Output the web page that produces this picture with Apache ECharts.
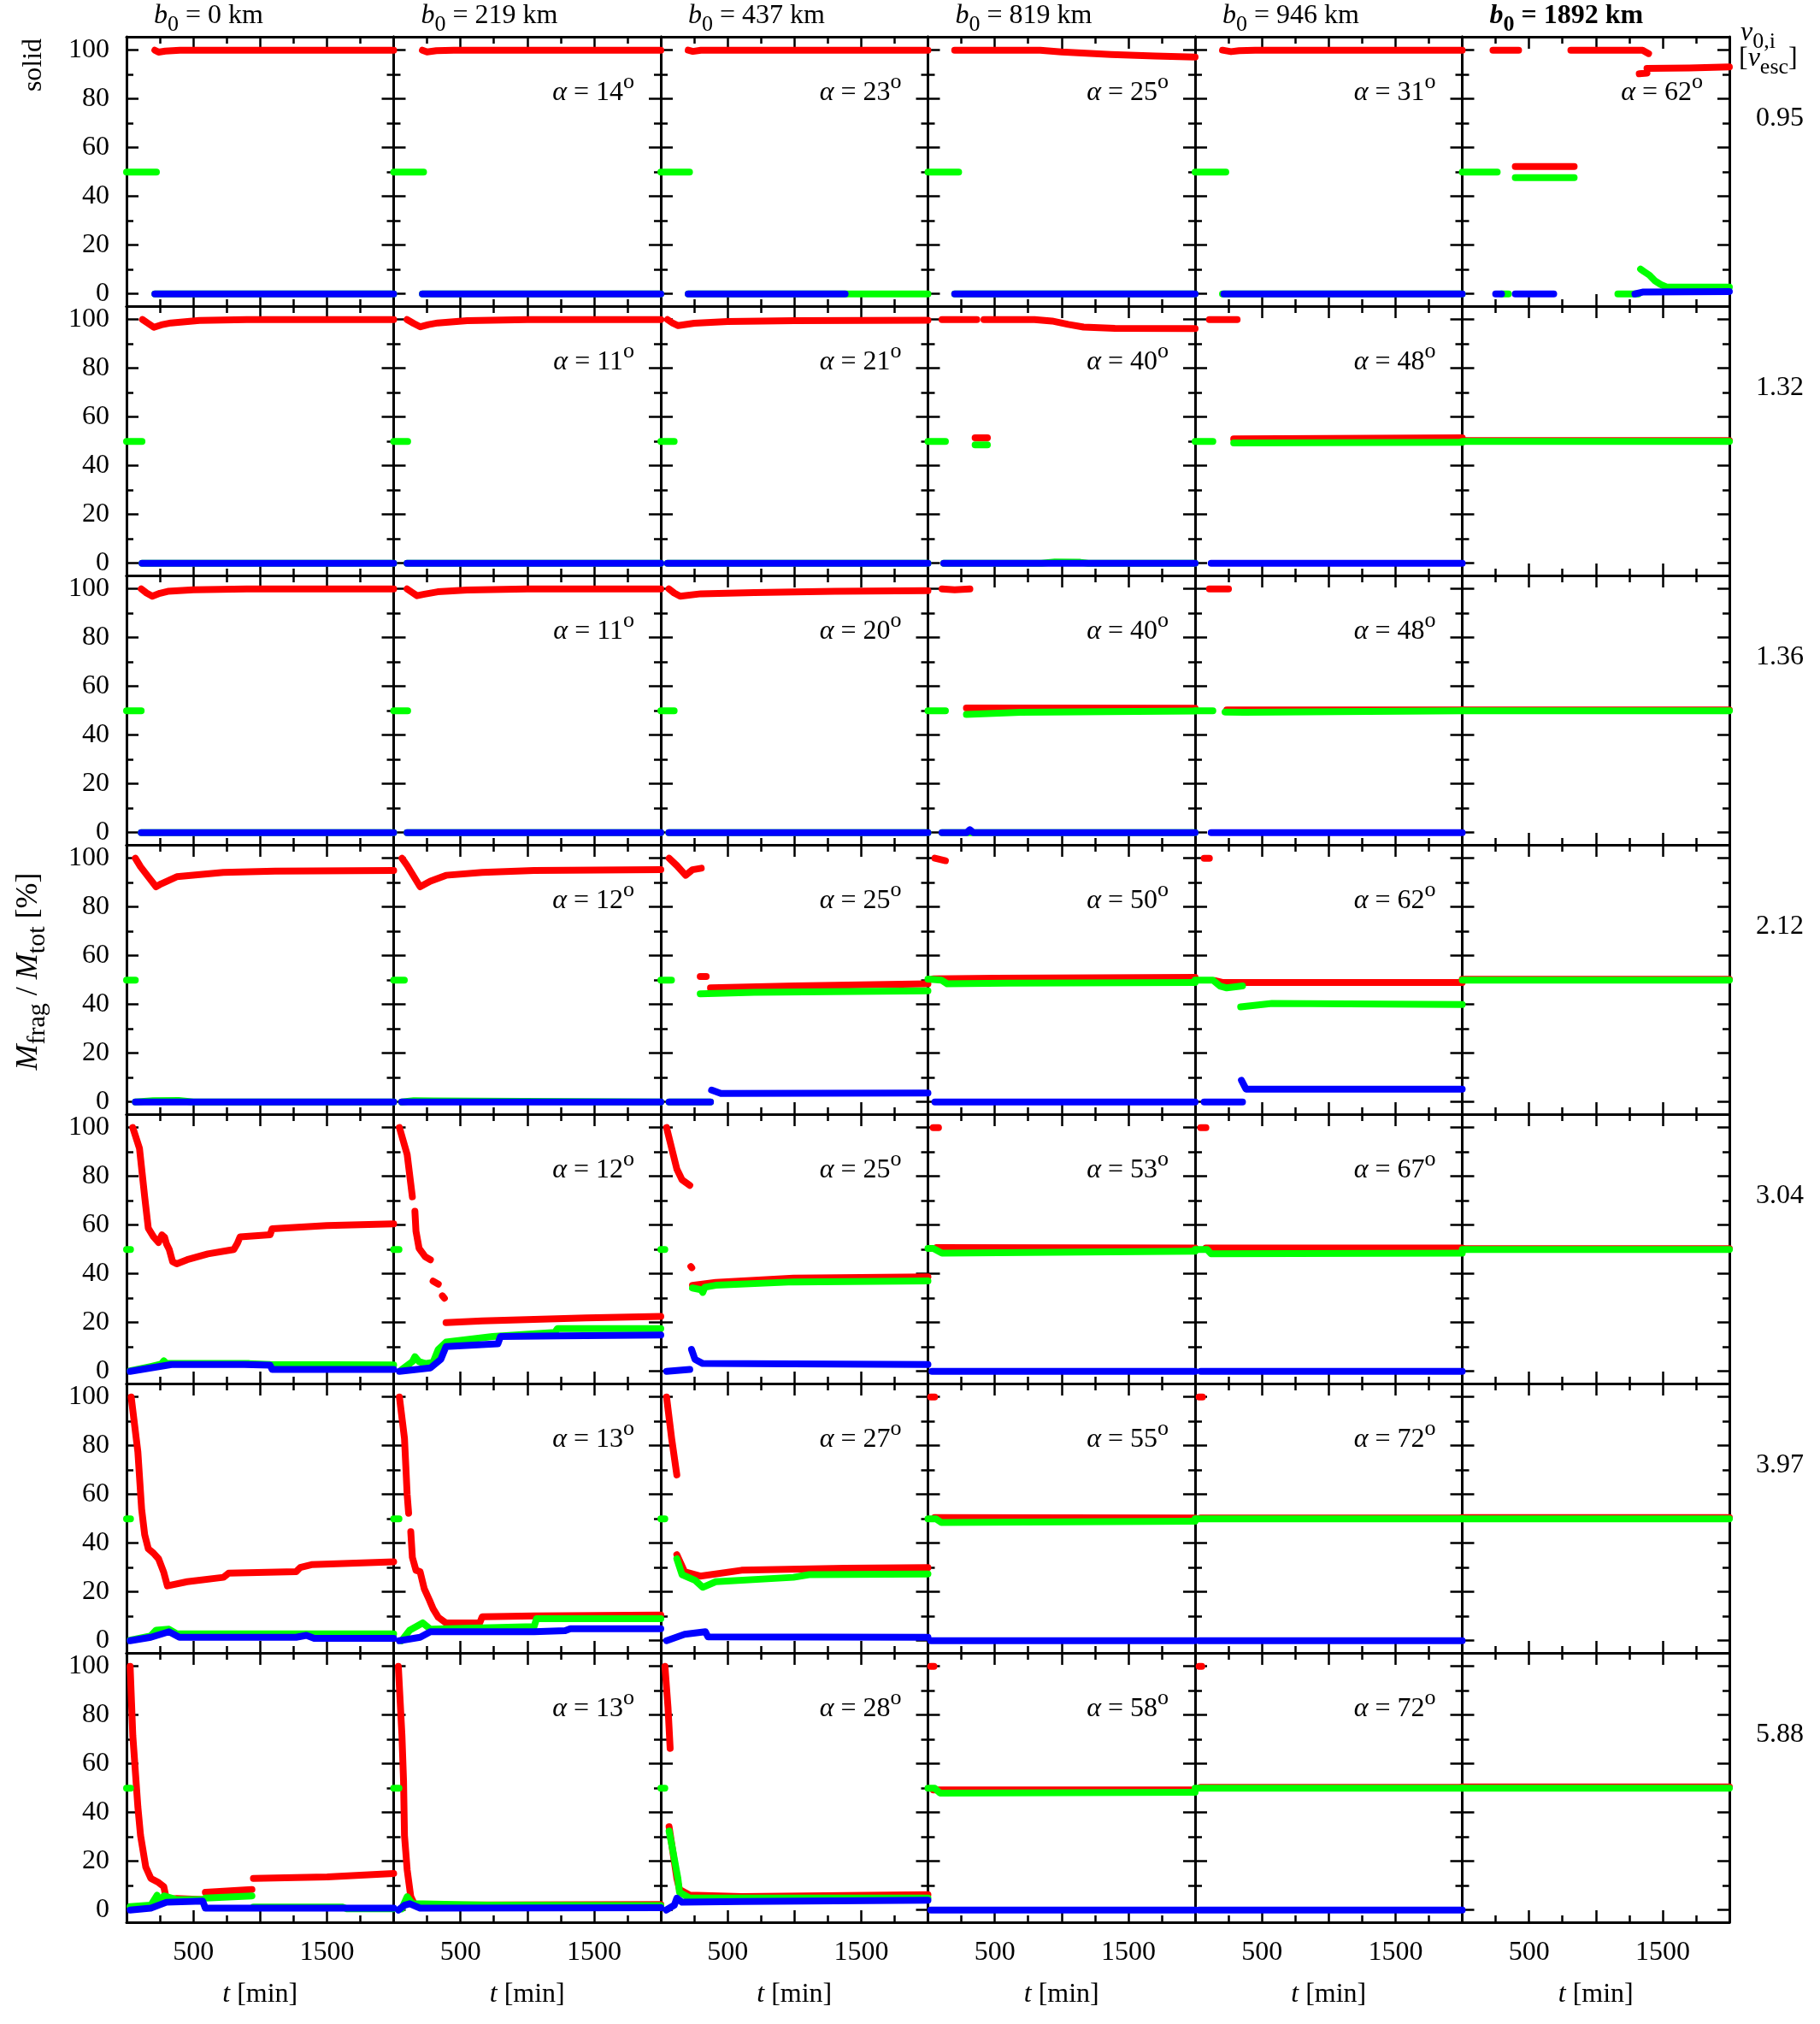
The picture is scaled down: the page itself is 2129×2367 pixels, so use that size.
<!DOCTYPE html>
<html><head><meta charset="utf-8">
<script src="https://cdn.jsdelivr.net/npm/echarts@6/dist/echarts.min.js"></script>
<style>html,body{margin:0;padding:0;background:#fff}#c{width:2129px;height:2367px}</style>
</head><body><div id="c"></div>
<script>
// ---------- categories / labels ----------
const b0Labels = ['0', '219', '437', '819', '946', '1892'];
const vLabels = ['0.95', '1.32', '1.36', '2.12', '3.04', '3.97', '5.88'];
const alphaLabels = [
  [null, '14', '23', '25', '31', '62'],
  [null, '11', '21', '40', '48', null],
  [null, '11', '20', '40', '48', null],
  [null, '12', '25', '50', '62', null],
  [null, '12', '25', '53', '67', null],
  [null, '13', '27', '55', '72', null],
  [null, '13', '28', '58', '72', null]
];
const xTickLabels = [500, 1500];
const yTickLabels = [0, 20, 40, 60, 80, 100];
const yMinorTicks = [10, 30, 50, 70, 90];
const G = ['-', '-']; // gap marker

// ---------- data: [t (min), percent] ----------
// row 1 : v = 0.95
const red_11 = [[212,100],[240,99.2],[290,99.6],[400,100],[2000,100]];
const green_11 = [[0,50],[224,50],G,[212,0],[2000,0]];
const blue_11 = [[212,0],[2000,0]];
const red_12 = [[215,100],[250,99.3],[320,99.8],[450,100],[2000,100]];
const green_12 = [[0,50],[224,50],G,[215,0],[2000,0]];
const blue_12 = [[215,0],[2000,0]];
const red_13 = [[205,100],[240,99.5],[300,100],[2000,100]];
const green_13 = [[0,50],[215,50],G,[205,0],[2000,0]];
const blue_13 = [[205,0],[1380,0]];
const red_14 = [[200,100],[840,100],[1000,99.3],[1370,98.2],[1700,97.6],[2000,97.2]];
const green_14 = [[0,50],[230,50],G,[200,0],[2000,0]];
const blue_14 = [[200,0],[2000,0]];
const red_15 = [[205,100],[269,99.4],[330,99.8],[450,100],[2000,100]];
const green_15 = [[0,50],[230,50],G,[205,0],[2000,0]];
const blue_15 = [[215,0],[2000,0]];
const red_16 = [[230,100],[422,100],G,[397,52.3],[838,52.3],G,[813,100],[1350,100],[1395,98.6],G,[1325,90.3],[1383,90.6],G,[1383,92.5],[1700,92.7],[2000,93.1]];
const green_16 = [[0,50],[262,50],G,[397,47.7],[838,47.7],G,[294,0],[346,0],G,[1165,0],[1318,0],G,[1335,10.2],[1360,9.2],[1401,7.7],[1440,5.5],[1485,3.9],[1530,2.8],[2000,2.8]];
const blue_16 = [[250,0],[294,0],G,[397,0],[685,0],G,[1293,0],[1357,0.8],[2000,1]];
// row 2 : v = 1.32
const red_21 = [[119,100],[160,98.5],[205,96.8],[260,97.8],[333,98.6],[546,99.6],[900,100],[2000,100]];
const green_21 = [[0,50],[116,50],G,[116,0],[2000,0]];
const blue_21 = [[116,0],[2000,0]];
const red_22 = [[100,100],[150,98.4],[200,97],[260,97.9],[330,98.6],[550,99.5],[1000,100],[2000,100]];
const green_22 = [[0,50],[105,50],G,[100,0],[2000,0]];
const blue_22 = [[100,0],[2000,0]];
const red_23 = [[50,100],[90,98.5],[130,97.5],[250,98.5],[500,99.2],[1000,99.5],[2000,99.7]];
const green_23 = [[0,50],[100,50],G,[50,0],[2000,0]];
const blue_23 = [[50,0],[2000,0]];
const red_24 = [[105,100],[366,100],G,[353,51.5],[445,51.5],G,[419,100],[798,100],[929,99.4],[1050,98],[1165,96.9],[1400,96.4],[2000,96.3]];
const green_24 = [[0,50],[131,50],G,[353,48.6],[445,48.6],G,[118,0],[850,0],[950,0.5],[1140,0.4],[1200,0],[2000,0]];
const blue_24 = [[118,0],[2000,0]];
const red_25 = [[107,100],[315,100],G,[289,51],[2000,51.5]];
const green_25 = [[0,50],[133,50],G,[289,49.4],[2000,49.6]];
const blue_25 = [[120,0],[2000,0]];
const red_26 = [[0,50.3],[2000,50.3]];
const green_26 = [[0,50],[2000,50]];
const blue_26 = [];
// row 3 : v = 1.36
const red_31 = [[110,100],[150,98.3],[193,97],[250,98.2],[309,99],[500,99.6],[900,100],[2000,100]];
const green_31 = [[0,50],[110,50],G,[110,0],[2000,0]];
const blue_31 = [[110,0],[2000,0]];
const red_32 = [[100,100],[140,98.5],[175,97.2],[230,97.8],[330,98.8],[550,99.5],[1000,100],[2000,100]];
const green_32 = [[0,50],[105,50],G,[100,0],[2000,0]];
const blue_32 = [[100,0],[2000,0]];
const red_33 = [[60,100],[100,98.3],[145,97],[300,98],[700,98.5],[1300,99],[2000,99.3]];
const green_33 = [[0,50],[100,50],G,[60,0],[2000,0]];
const blue_33 = [[60,0],[2000,0]];
const red_34 = [[105,100],[200,99.6],[314,100],G,[288,51.1],[2000,51]];
const green_34 = [[0,50],[131,50],G,[288,48.5],[694,49.4],[2000,49.9],G,[105,0],[2000,0]];
const blue_34 = [[105,0],[290,0],[314,1.2],[340,0],[2000,0]];
const red_35 = [[107,100],[250,100],G,[237,50.3],[2000,50.3]];
const green_35 = [[0,50],[133,50],G,[224,49.5],[368,49.4],[2000,50]];
const blue_35 = [[120,0],[2000,0]];
const red_36 = [[0,50.3],[2000,50.3]];
const green_36 = [[0,50],[2000,50]];
const blue_36 = [];
// row 4 : v = 2.12
const red_41 = [[66,100],[105,96.5],[163,92.4],[221,88.3],[260,89.5],[376,92.4],[725,94.2],[1113,94.7],[2000,95]];
const green_41 = [[0,50],[66,50],G,[66,0],[200,0.5],[390,0.6],[500,0],[2000,0]];
const blue_41 = [[66,0],[2000,0]];
const red_42 = [[62,100],[101,97],[198,88.3],[275,90.6],[392,93],[663,94.2],[1051,95],[2000,95.3]];
const green_42 = [[0,50],[80,50],G,[60,0],[150,0.5],[300,0.4],[2000,0]];
const blue_42 = [[60,0],[2000,0]];
const red_43 = [[62,100],[120,97],[186,93],[237,95.3],[303,95.9],G,[295,51.5],[340,51.5],G,[372,46.8],[1000,47.6],[2000,48.5]];
const green_43 = [[0,50],[80,50],G,[295,44.4],[700,45],[2000,45.6],G,[62,0],[372,0]];
const blue_43 = [[62,0],[372,0],G,[380,4.9],[450,3.5],[2000,3.7]];
const red_44 = [[52,100],[131,99],G,[40,50.5],[500,50.8],[2000,51.1]];
const green_44 = [[0,50.4],[100,50],[144,48.5],[600,48.8],[2000,49]];
const blue_44 = [[52,0],[2000,0]];
const red_45 = [[68,100],[107,100],G,[150,49.8],[211,49],[2000,49]];
const green_45 = [[0,50],[133,50],[185,47.6],[237,46.8],[355,47.6],G,[341,39],[576,40.4],[2000,40]];
const blue_45 = [[68,0],[355,0],G,[347,8.9],[381,5.3],[2000,5.3]];
const red_46 = [[0,50.3],[2000,50.3]];
const green_46 = [[0,50],[2000,50]];
const blue_46 = [];
// row 5 : v = 3.04
const red_51 = [[47,100],[97,91.5],[136,71.6],[163,58.7],[202,55.2],[240,52.9],[265,56],[285,55],[299,52.3],[320,50],[345,45],[376,44.1],[454,45.8],[609,48.2],[803,50],[830,52.5],[850,55.2],[1075,56],[1090,58.5],[1500,59.8],[2000,60.5]];
const green_51 = [[0,50],[30,50],G,[27,0.2],[182,2],[260,3],[279,4.3],[300,3.2],[337,3.2],[920,3.2],[1075,2.8],[2000,2.6]];
const blue_51 = [[27,0],[182,1.4],[337,2.8],[881,2.8],[1075,2.5],[1090,0.8],[2000,0.8]];
const red_52 = [[43,100],[101,89],[140,71.6],G,[159,65.7],[167,57.5],[190,50.5],[237,47],[275,45.8],G,[295,37],[334,35.8],G,[365,31],[380,30],G,[392,20],[663,20.7],[1440,21.9],[2000,22.5]];
const green_52 = [[0,50],[40,50],G,[62,0.8],[140,4],[159,6],[190,4],[237,3.2],[295,3.7],[334,9],[392,12],[741,14.3],[1207,16],[1226,17.5],[2000,17.5]];
const blue_52 = [[43,0],[275,1.4],[353,4.9],[392,10.2],[780,11.3],[800,14.3],[1245,14.6],[2000,14.9]];
const red_53 = [[43,100],[120,83],[159,78.6],[217,76.3],G,[225,43],[232,42.5],G,[237,35.3],[411,36.5],[993,38.2],[2000,38.8]];
const green_53 = [[0,50],[30,50],G,[237,34.2],[300,33.5],[314,32.4],[330,34.5],[411,35.3],[993,36.7],[2000,37.1]];
const blue_53 = [[43,0],[217,0.8],G,[230,9],[240,8.4],[256,4.9],[314,3.2],[2000,2.8]];
const red_54 = [[39,100],[79,100],G,[65,50.8],[2000,50.6]];
const green_54 = [[0,50.4],[40,50.4],[105,48.5],[2000,49.3]];
const blue_54 = [[30,0],[2000,0]];
const red_55 = [[42,100],[81,100],G,[81,50.6],[2000,50.6]];
const green_55 = [[0,50],[90,50],[120,48.2],[2000,48.5]];
const blue_55 = [[42,0],[2000,0]];
const red_56 = [[0,50.3],[2000,50.3]];
const green_56 = [[0,50],[2000,50]];
const blue_56 = [];
// row 6 : v = 3.97
const red_61 = [[35,100],[85,77.4],[113,54],[136,43.5],[163,37.7],[202,35.9],[240,33.6],[279,28],[306,22.5],[454,24.2],[726,26],[764,27.7],[1269,28.3],[1300,30],[1385,31.2],[2000,32.4]];
const green_61 = [[0,50],[30,50],G,[27,0.2],[182,2],[221,4.3],[318,4.7],[376,2.8],[2000,2.8]];
const blue_61 = [[27,0],[182,1.4],[318,3.7],[396,1.4],[1269,1.4],[1347,2.2],[1405,1],[2000,1]];
const red_62 = [[43,100],[81,83],[101,60],[112,52.3],G,[128,44.7],[140,34.2],[167,28.9],[198,28.3],[229,21.3],[268,16.6],[295,13.1],[334,9.6],[392,7.3],[644,7.3],[663,9.8],[1051,10.2],[2000,10.5]];
const green_62 = [[0,50],[40,50],G,[60,0],[120,4.3],[217,7.3],[275,4.7],[1051,5.8],[1070,9],[2000,9]];
const blue_62 = [[43,0],[198,1.4],[275,3.7],[1051,3.7],[1284,4.1],[1323,4.9],[2000,4.9]];
const red_63 = [[43,100],[81,83],[120,68],G,[120,35.3],[178,28.3],[295,26.5],[605,28.9],[1381,29.7],[2000,30]];
const green_63 = [[0,50],[30,50],G,[120,33.6],[159,27.1],[256,24.8],[314,21.9],[411,24.2],[993,26],[1110,27.1],[2000,27.4]];
const blue_63 = [[43,0],[178,2.6],[334,3.7],[353,1.6],[2000,1.4]];
const red_64 = [[20,100],[50,100],G,[50,50.5],[2000,50.3]];
const green_64 = [[0,50],[60,50],[100,48.5],[2000,49]];
const blue_64 = [[20,0],[2000,0]];
const red_65 = [[30,100],[55,100],G,[40,50.3],[2000,50.3]];
const green_65 = [[0,50],[2000,50]];
const blue_65 = [[30,0],[2000,0]];
const red_66 = [[0,50.5],[2000,50.5]];
const green_66 = [[0,50],[2000,50]];
const blue_66 = [];
// row 7 : v = 5.88
const red_71 = [[27,100],[47,71.6],[85,42.3],[105,30.6],[144,17.7],[182,13],[240,11.3],[279,9.6],[299,4.3],[376,4.7],[570,4.3],G,[590,7.3],[939,8.4],G,[950,13],[1502,13.6],[2000,15]];
const green_71 = [[0,50],[30,50],G,[27,1.4],[182,2],[229,6.1],[240,2.6],[279,5.8],[376,4.3],[570,4.3],G,[590,4.9],[939,5.8],G,[950,1.2],[1620,1.2],[1650,0.5],[2000,0.5]];
const blue_71 = [[27,0],[182,0.8],[299,3.2],[570,3.7],[590,0.8],[2000,0.8]];
const red_72 = [[35,100],[62,71.6],[74,52.9],[81,30.6],[101,16.6],[112,12],[128,5.5],[159,2],[2000,2.3]];
const green_72 = [[0,50],[40,50],G,[60,0.5],[101,5.5],[140,2.6],[700,2],[2000,1.8]];
const blue_72 = [[35,0],[81,2],[120,2.6],[198,0.8],[2000,1]];
const red_73 = [[31,100],[54,83],[70,66.3],G,[62,34.2],[120,13],[140,8.4],[217,6.1],[605,5.5],[2000,6.3]];
const green_73 = [[0,50],[30,50],G,[62,32.4],[81,27.1],[120,15.4],[128,13],[140,7.3],[217,4.9],[2000,4.9]];
const blue_73 = [[40,0],[101,2],[120,4.9],[159,3.2],[605,3.5],[2000,4]];
const red_74 = [[20,100],[45,100],G,[40,49.3],[2000,49.3]];
const green_74 = [[0,50],[50,50],[90,48],[2000,48.3]];
const blue_74 = [[20,0],[2000,0]];
const red_75 = [[30,100],[50,100],G,[40,50.3],[2000,50.3]];
const green_75 = [[0,50],[2000,50]];
const blue_75 = [[30,0],[2000,0]];
const red_76 = [[0,50.5],[2000,50.5]];
const green_76 = [[0,50],[2000,50]];
const blue_76 = [];

const panels = [
  [[red_11,green_11,blue_11],[red_12,green_12,blue_12],[red_13,green_13,blue_13],[red_14,green_14,blue_14],[red_15,green_15,blue_15],[red_16,green_16,blue_16]],
  [[red_21,green_21,blue_21],[red_22,green_22,blue_22],[red_23,green_23,blue_23],[red_24,green_24,blue_24],[red_25,green_25,blue_25],[red_26,green_26,blue_26]],
  [[red_31,green_31,blue_31],[red_32,green_32,blue_32],[red_33,green_33,blue_33],[red_34,green_34,blue_34],[red_35,green_35,blue_35],[red_36,green_36,blue_36]],
  [[red_41,green_41,blue_41],[red_42,green_42,blue_42],[red_43,green_43,blue_43],[red_44,green_44,blue_44],[red_45,green_45,blue_45],[red_46,green_46,blue_46]],
  [[red_51,green_51,blue_51],[red_52,green_52,blue_52],[red_53,green_53,blue_53],[red_54,green_54,blue_54],[red_55,green_55,blue_55],[red_56,green_56,blue_56]],
  [[red_61,green_61,blue_61],[red_62,green_62,blue_62],[red_63,green_63,blue_63],[red_64,green_64,blue_64],[red_65,green_65,blue_65],[red_66,green_66,blue_66]],
  [[red_71,green_71,blue_71],[red_72,green_72,blue_72],[red_73,green_73,blue_73],[red_74,green_74,blue_74],[red_75,green_75,blue_75],[red_76,green_76,blue_76]]
];

// ---------- layout ----------
const FONT = 'Liberation Serif';
const L = 148, T = 43, W = 312.5, H = 315;
const COLORS = ['#ff0000', '#00ff00', '#0000ff'];
const lineBlack = { color: '#000', width: 3 };
const tickBlack = { color: '#000', width: 2.5 };
const plainNum = v => String(v);

const grids = [], xAxes = [], yAxes = [], series = [];
for (let r = 0; r < 7; r++) {
  for (let c = 0; c < 6; c++) {
    const gi = r * 6 + c;
    grids.push({ left: L + c * W, top: T + r * H, width: W, height: H, outerBoundsMode: 'none', containLabel: false });
    const xBase = {
      type: 'value', gridIndex: gi, min: 0, max: 2000, interval: 500,
      axisLine: { show: true, onZero: false, lineStyle: lineBlack },
      axisTick: { show: true, inside: true, length: 14, lineStyle: tickBlack },
      minorTick: { show: true, splitNumber: 2, length: 8, lineStyle: tickBlack },
      splitLine: { show: false }, minorSplitLine: { show: false }
    };
    xAxes.push(Object.assign({}, xBase, {
      position: 'bottom',
      axisLabel: { show: r === 6, customValues: xTickLabels, formatter: plainNum, margin: 20, color: '#000', fontFamily: FONT, fontSize: 32 }
    }));
    xAxes.push(Object.assign({}, xBase, { position: 'top', axisLabel: { show: false } }));
    const yBase = { type: 'value', gridIndex: gi, min: -5, max: 105.5, splitLine: { show: false } };
    ['left', 'right'].forEach(pos => {
      yAxes.push(Object.assign({}, yBase, {
        position: pos,
        axisLine: { show: true, onZero: false, lineStyle: lineBlack },
        axisTick: { show: true, inside: true, length: 14, customValues: yTickLabels, lineStyle: tickBlack },
        axisLabel: { show: pos === 'left' && c === 0, customValues: yTickLabels, formatter: plainNum, margin: 20, color: '#000', fontFamily: FONT, fontSize: 32 }
      }));
      yAxes.push(Object.assign({}, yBase, {
        position: pos,
        axisLine: { show: false, onZero: false },
        axisTick: { show: true, inside: true, length: 8, customValues: yMinorTicks, lineStyle: tickBlack },
        axisLabel: { show: false }
      }));
    });
    panels[r][c].forEach((d, k) => {
      series.push({
        type: 'line', xAxisIndex: gi * 2, yAxisIndex: gi * 4, data: d,
        symbol: 'none', showSymbol: false, connectNulls: false, clip: false, silent: true,
        lineStyle: { color: COLORS[k], width: 8, cap: 'round', join: 'round' },
        itemStyle: { color: COLORS[k] }, z: 2 + k
      });
    });
  }
}

// ---------- texts ----------
const tok = (extra) => Object.assign({ fontFamily: FONT, fontSize: 32, lineHeight: 32, fill: '#000' }, extra);
const graphics = [];
b0Labels.forEach((b, c) => {
  const fw = c === 5 ? 'bold' : 'normal';
  graphics.push({
    type: 'text', x: L + c * W + 32, y: 19,
    style: {
      text: '{i|b}{s|0}{n| = ' + b + ' km}', align: 'left', verticalAlign: 'middle',
      fontFamily: FONT, fontSize: 32, fill: '#000',
      rich: { i: tok({ fontStyle: 'italic', fontWeight: fw }), n: tok({ fontWeight: fw }), s: tok({ fontSize: 26, lineHeight: 26, padding: [20, 0, 0, 0], fontWeight: fw }) }
    }
  });
});
for (let r = 0; r < 7; r++) {
  for (let c = 0; c < 6; c++) {
    const a = alphaLabels[r][c];
    if (a === null) continue;
    graphics.push({
      type: 'text', x: L + (c + 1) * W - 31, y: T + r * H + 66,
      style: {
        text: '{i|α}{n| = ' + a + '}{u|o}', align: 'right', verticalAlign: 'middle',
        fontFamily: FONT, fontSize: 32, fill: '#000',
        rich: { i: tok({ fontStyle: 'italic' }), n: tok({}), u: tok({ fontSize: 26, lineHeight: 26, padding: [0, 0, 26, 0] }) }
      }
    });
  }
}
vLabels.forEach((v, r) => {
  graphics.push({ type: 'text', x: 2082, y: T + r * H + 96, style: { text: v, align: 'center', verticalAlign: 'middle', fontFamily: FONT, fontSize: 32, fill: '#000' } });
});
graphics.push({
  type: 'text', x: 2036, y: 39,
  style: { text: '{i|v}{s|0,i}', align: 'left', verticalAlign: 'middle', fontFamily: FONT, fontSize: 32, fill: '#000',
    rich: { i: tok({ fontStyle: 'italic' }), s: tok({ fontSize: 26, lineHeight: 26, padding: [20, 0, 0, 0] }) } }
});
graphics.push({
  type: 'text', x: 2034, y: 69,
  style: { text: '{n|[}{i|v}{s|esc}{n|]}', align: 'left', verticalAlign: 'middle', fontFamily: FONT, fontSize: 32, fill: '#000',
    rich: { n: tok({}), i: tok({ fontStyle: 'italic' }), s: tok({ fontSize: 26, lineHeight: 26, padding: [20, 0, 0, 0] }) } }
});
graphics.push({
  type: 'text', x: 40, y: 76, rotation: Math.PI / 2,
  style: { text: 'solid', align: 'center', verticalAlign: 'middle', fontFamily: FONT, fontSize: 32, fill: '#000' }
});
graphics.push({
  type: 'text', x: 34, y: 1136, rotation: Math.PI / 2,
  style: { text: '{i|M}{s|frag}{n| / }{i|M}{s|tot}{n| [%]}', align: 'center', verticalAlign: 'middle', fontFamily: FONT, fontSize: 36, fill: '#000',
    rich: { n: tok({ fontSize: 36, lineHeight: 36 }), i: tok({ fontStyle: 'italic', fontSize: 36, lineHeight: 36 }), s: tok({ fontSize: 30, lineHeight: 30, padding: [20, 0, 0, 0] }) } }
});
for (let c = 0; c < 6; c++) {
  graphics.push({
    type: 'text', x: L + c * W + W / 2, y: 2333,
    style: { text: '{i|t}{n| [min]}', align: 'center', verticalAlign: 'middle', fontFamily: FONT, fontSize: 32, fill: '#000',
      rich: { i: tok({ fontStyle: 'italic' }), n: tok({}) } }
  });
}

const chart = echarts.init(document.getElementById('c'), null, { renderer: 'canvas', width: 2129, height: 2367 });
chart.setOption({
  backgroundColor: '#fff',
  animation: false,
  grid: grids, xAxis: xAxes, yAxis: yAxes, series: series,
  graphic: graphics
});
</script>
</body></html>
